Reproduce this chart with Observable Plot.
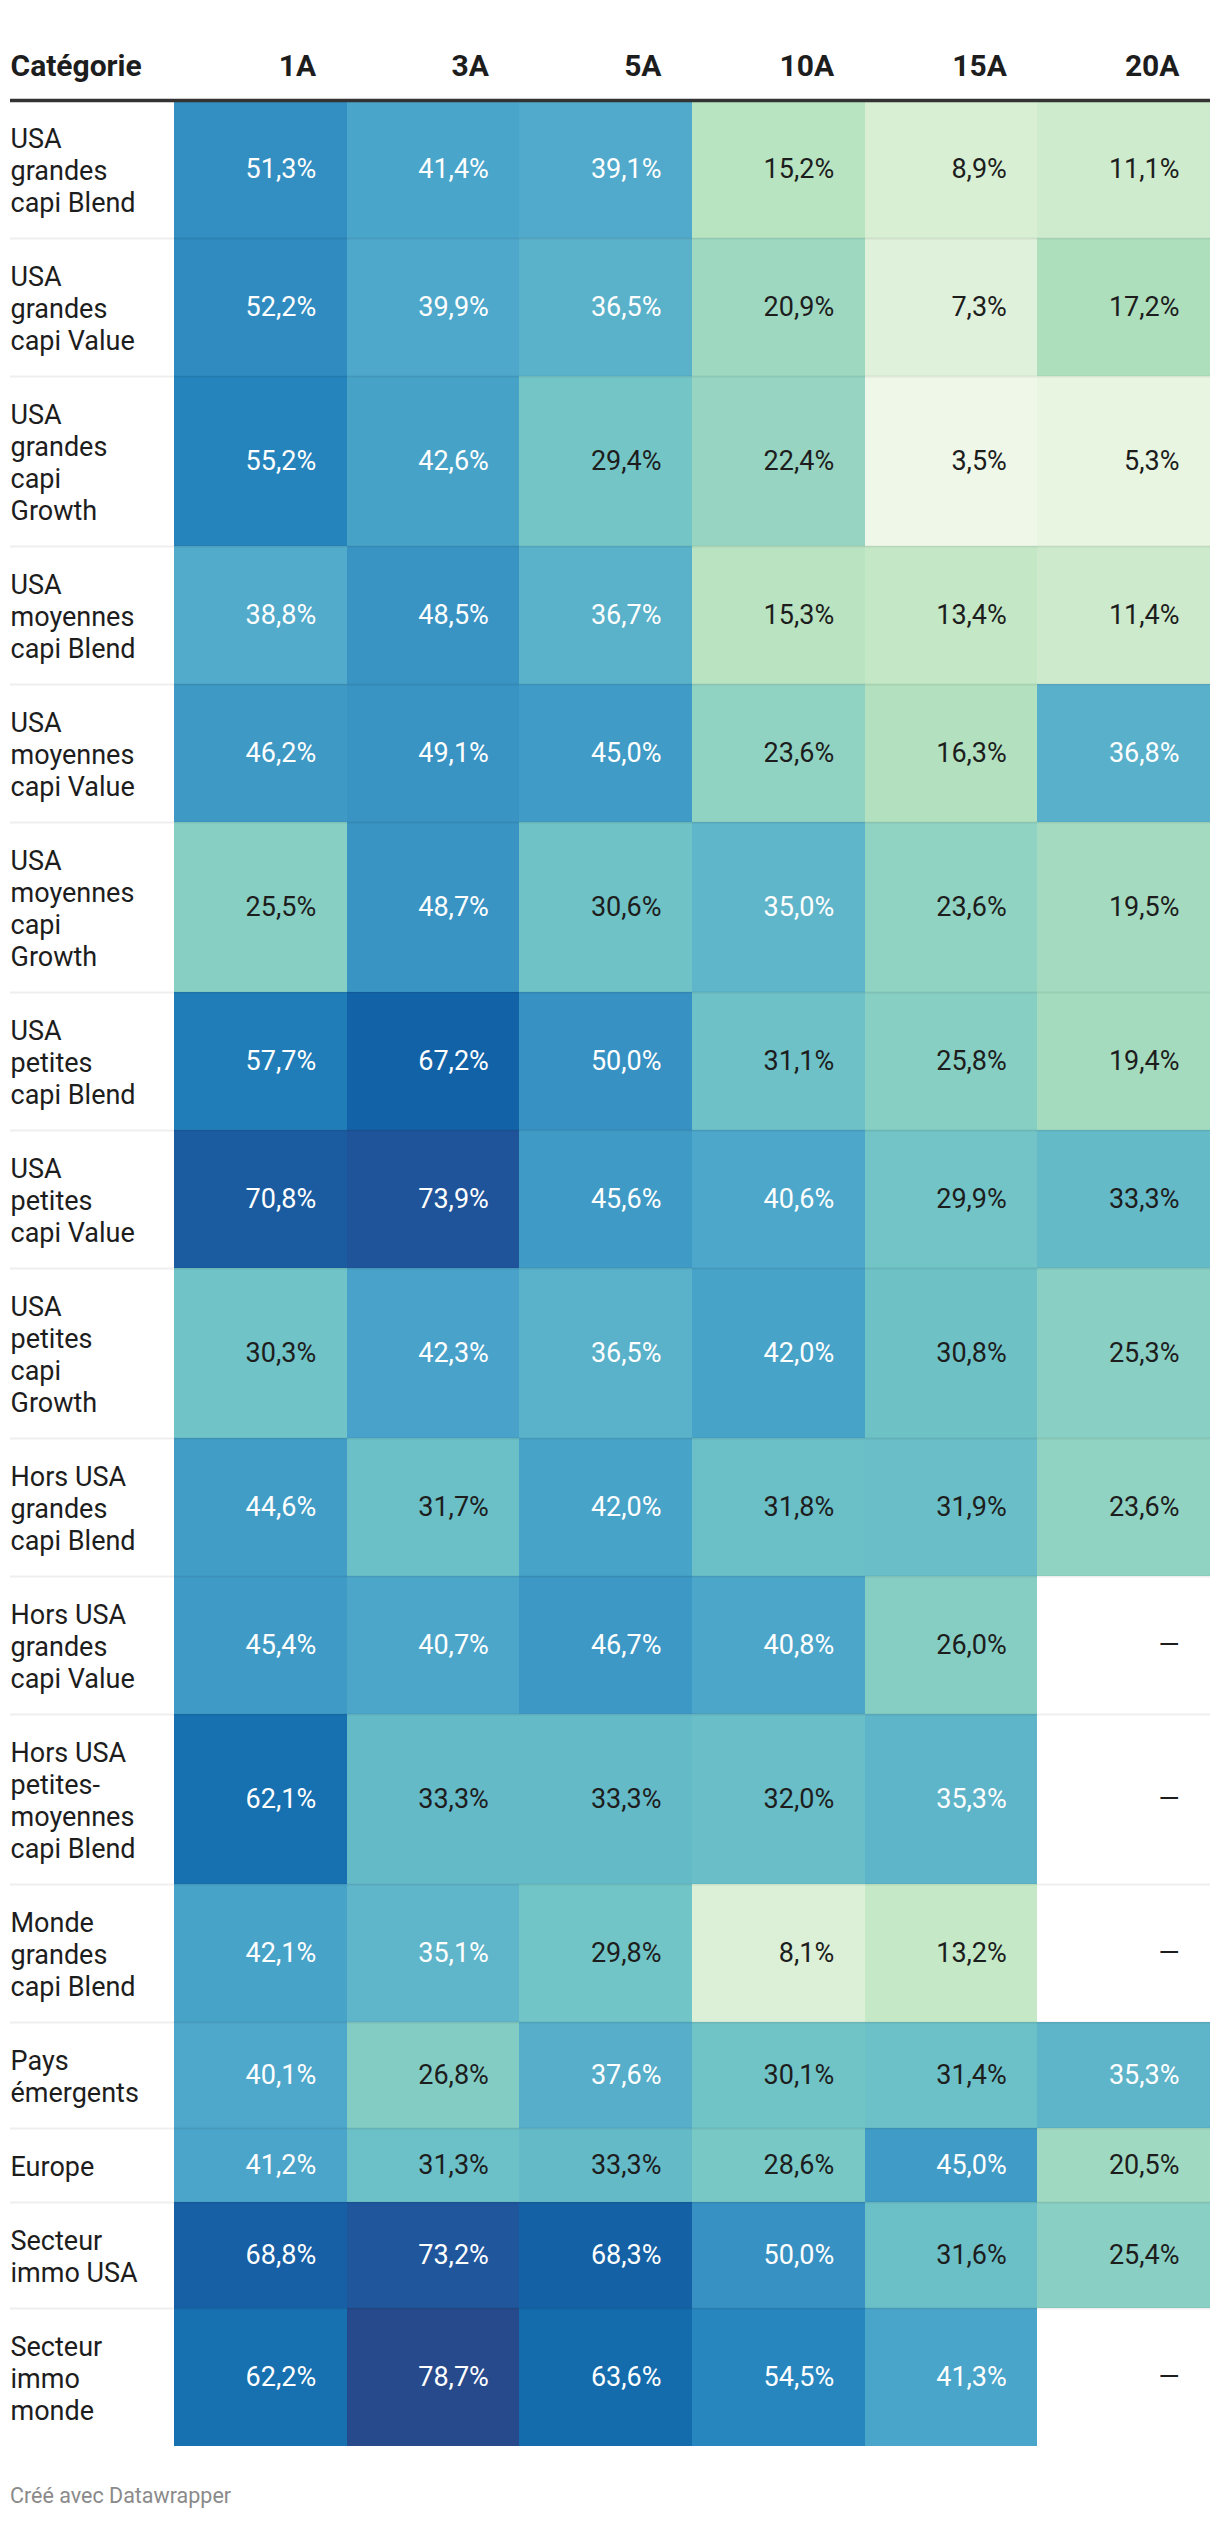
<!DOCTYPE html>
<html lang="fr">
<head>
<meta charset="utf-8">
<script src="https://cdn.jsdelivr.net/npm/d3@7"></script>
<script src="https://cdn.jsdelivr.net/npm/@observablehq/plot@0.6"></script>
<style>
  html, body { margin: 0; padding: 0; background: #fff; }
  body { width: 1220px; font-family: Roboto, "Noto Sans", sans-serif; }
  #caption { font-family: Roboto, sans-serif; font-size: 21.5px; line-height: 24px; color: #8a8a8a; padding: 22px 0 0 10px; }
</style>
</head>
<body>
<div id="chart"></div>
<div id="caption">Créé avec Datawrapper</div>
<script>
// ---- Data ----
const headerLabel = "Catégorie";
const columns = ["1A", "3A", "5A", "10A", "15A", "20A"];
const categories = [
  "USA\ngrandes\ncapi Blend",
  "USA\ngrandes\ncapi Value",
  "USA\ngrandes\ncapi\nGrowth",
  "USA\nmoyennes\ncapi Blend",
  "USA\nmoyennes\ncapi Value",
  "USA\nmoyennes\ncapi\nGrowth",
  "USA\npetites\ncapi Blend",
  "USA\npetites\ncapi Value",
  "USA\npetites\ncapi\nGrowth",
  "Hors USA\ngrandes\ncapi Blend",
  "Hors USA\ngrandes\ncapi Value",
  "Hors USA\npetites-\nmoyennes\ncapi Blend",
  "Monde\ngrandes\ncapi Blend",
  "Pays\némergents",
  "Europe",
  "Secteur\nimmo USA",
  "Secteur\nimmo\nmonde"
];
const v1A  = [51.3, 52.2, 55.2, 38.8, 46.2, 25.5, 57.7, 70.8, 30.3, 44.6, 45.4, 62.1, 42.1, 40.1, 41.2, 68.8, 62.2];
const v3A  = [41.4, 39.9, 42.6, 48.5, 49.1, 48.7, 67.2, 73.9, 42.3, 31.7, 40.7, 33.3, 35.1, 26.8, 31.3, 73.2, 78.7];
const v5A  = [39.1, 36.5, 29.4, 36.7, 45.0, 30.6, 50.0, 45.6, 36.5, 42.0, 46.7, 33.3, 29.8, 37.6, 33.3, 68.3, 63.6];
const v10A = [15.2, 20.9, 22.4, 15.3, 23.6, 35.0, 31.1, 40.6, 42.0, 31.8, 40.8, 32.0, 8.1, 30.1, 28.6, 50.0, 54.5];
const v15A = [8.9, 7.3, 3.5, 13.4, 16.3, 23.6, 25.8, 29.9, 30.8, 31.9, 26.0, 35.3, 13.2, 31.4, 45.0, 31.6, 41.3];
const v20A = [11.1, 17.2, 5.3, 11.4, 36.8, 19.5, 19.4, 33.3, 25.3, 23.6, null, null, null, 35.3, 20.5, 25.4, null];
const series = [v1A, v3A, v5A, v10A, v15A, v20A];
const missingText = "—";

// colour scale stops (Datawrapper-like green → blue)
const colorStops  = [3.5, 8, 13, 17, 22, 26, 30, 35, 40, 45, 50, 55, 60, 66, 70, 74, 78.7];
const colorValues = ["#eff8e8", "#dcf0d7", "#c6e9c7", "#afdfbd", "#99d6c2", "#86cec3", "#71c4c6",
                     "#5fb5c9", "#4ea8cb", "#409cc6", "#3791c2", "#2685bd", "#1b77b4", "#0f64a8",
                     "#1a5ea3", "#20549a", "#264a8b"];
const whiteTextAbove = 34;

// ---- Layout helpers (derived from the data) ----
const linePx = 32;             // px per text line
const rowPad = 42 / linePx;    // vertical padding per row, in line units
const labelRatio = 0.95;       // label column width relative to a data column
const bodySize = 27, headSize = 30;

let acc = 0;
const rows = categories.map((label, i) => {
  const n = label.split("\n").length;
  const y0 = acc;
  acc += n + rowPad;
  return { label, i, y0, y1: acc, ym: (y0 + acc) / 2 };
});
const total = acc;

const cells = [];
series.forEach((vals, ci) => {
  vals.forEach((v, ri) => {
    cells.push({ col: columns[ci], ci, value: v, y0: rows[ri].y0, y1: rows[ri].y1, ym: rows[ri].ym });
  });
});

const fr = d3.formatLocale({ decimal: ",", thousands: "\u202f", grouping: [3], currency: ["", " €"] });
const fmt = fr.format(".1f");
const labelOf = (v) => v == null ? missingText : fmt(v) + "%";

const marginTop = 100, marginBottom = 16;
const height = marginTop + total * linePx + marginBottom;
const textColor = "#1d1d1d";

const plot = Plot.plot({
  width: 1220,
  height,
  marginLeft: 10,
  marginRight: 10,
  marginTop,
  marginBottom,
  style: { fontFamily: "Roboto, sans-serif", fontSize: bodySize + "px", color: textColor, background: "#fff" },
  x: { type: "linear", domain: [-labelRatio, columns.length], axis: null },
  y: { type: "linear", domain: [0, total], reverse: true, axis: null },
  color: { type: "linear", domain: colorStops, range: colorValues, interpolate: "rgb", clamp: true },
  marks: [
    Plot.rect(cells.filter(d => d.value != null), {
      x1: d => d.ci, x2: d => d.ci + 1, y1: "y0", y2: "y1",
      fill: "value", shapeRendering: "crispEdges"
    }),
    Plot.ruleY(rows.slice(1), { y: "y0", stroke: "#000", strokeOpacity: 0.065, strokeWidth: 2 }),
    Plot.ruleY([0], { stroke: "#333", strokeWidth: 3.4 }),
    Plot.text(cells, {
      x: d => d.ci + 1, y: "ym", text: d => labelOf(d.value),
      textAnchor: "end", dx: -31, fontSize: bodySize,
      fill: d => (d.value != null && d.value > whiteTextAbove) ? "#ffffff" : textColor
    }),
    Plot.text(rows, {
      frameAnchor: "left", y: "ym", text: "label",
      textAnchor: "start", lineAnchor: "middle", lineHeight: linePx / bodySize, fontSize: bodySize, fill: textColor
    }),
    Plot.text(columns, {
      x: (d, i) => i + 1, y: () => 0, text: d => d,
      textAnchor: "end", lineAnchor: "bottom", dx: -31, dy: -25,
      fontSize: headSize, fontWeight: 700, fill: textColor
    }),
    Plot.text([headerLabel], {
      frameAnchor: "top-left", text: d => d,
      textAnchor: "start", lineAnchor: "bottom", dy: -25,
      fontSize: headSize, fontWeight: 700, fill: textColor
    })
  ]
});
document.getElementById("chart").appendChild(plot);
</script>
</body>
</html>
